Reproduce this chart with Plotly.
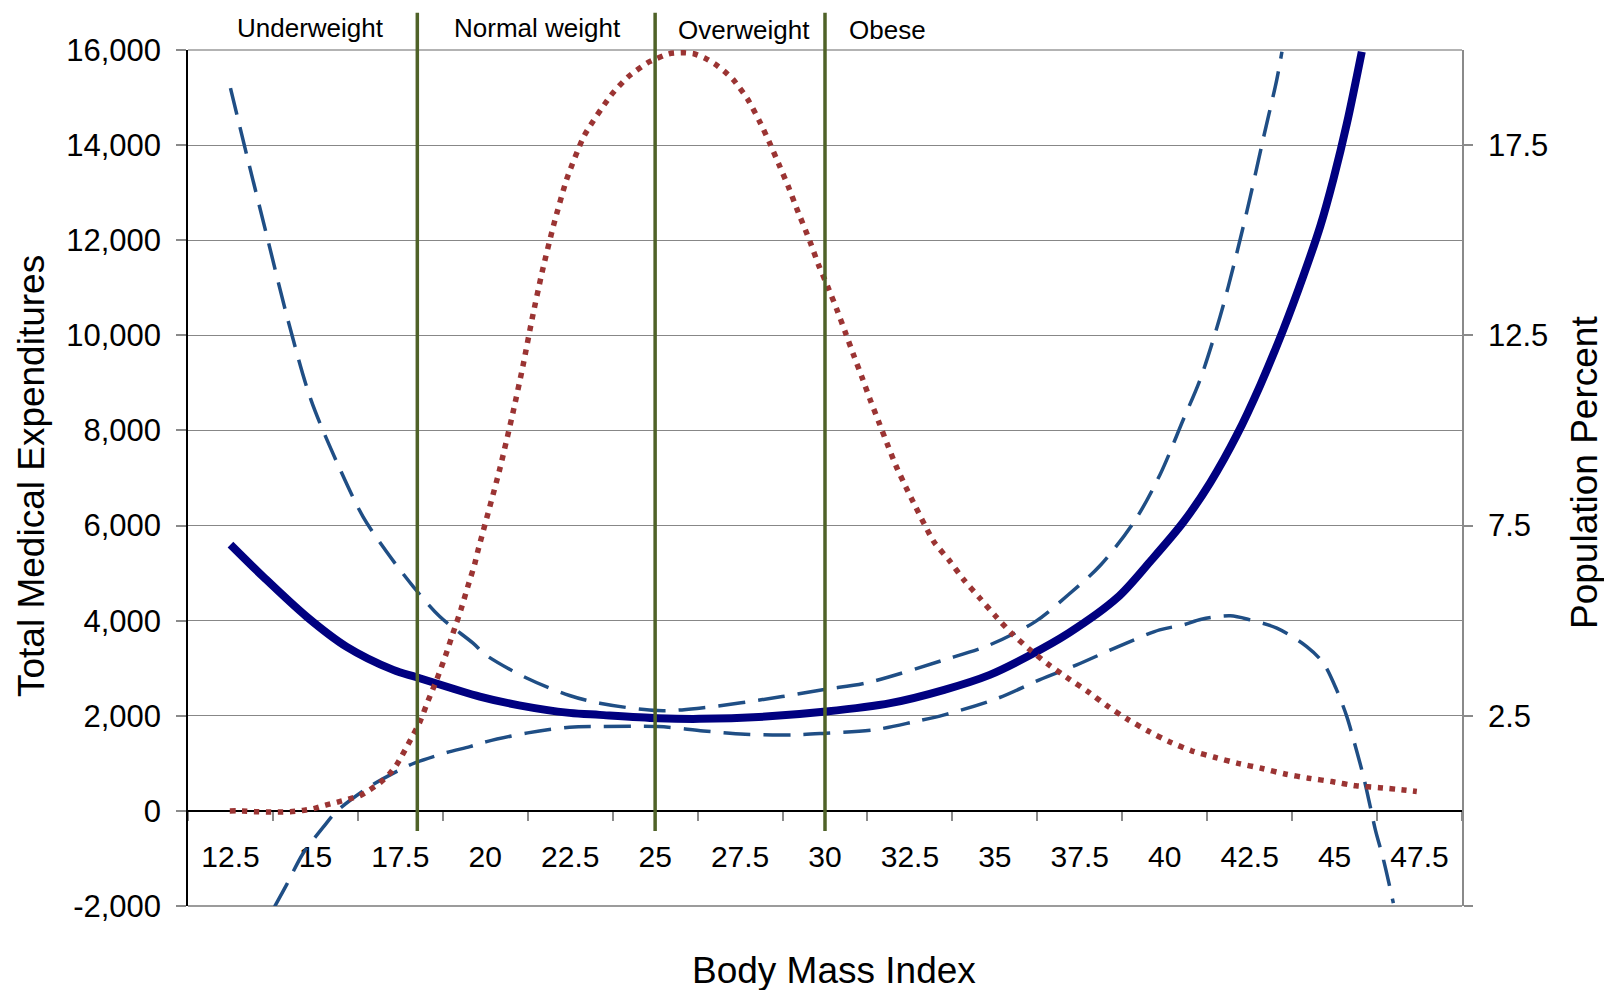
import plotly.graph_objects as go

# ---------------- data ----------------
bmi_ticks = [12.5, 15, 17.5, 20, 22.5, 25, 27.5, 30, 32.5, 35, 37.5, 40, 42.5, 45, 47.5]
bmi_tick_text = ["12.5", "15", "17.5", "20", "22.5", "25", "27.5", "30", "32.5",
                 "35", "37.5", "40", "42.5", "45", "47.5"]
bmi_boundary_ticks = [11.25, 13.75, 16.25, 18.75, 21.25, 23.75, 26.25, 28.75, 31.25,
                      33.75, 36.25, 38.75, 41.25, 43.75, 46.25, 48.75]

exp_ticks = [-2000, 0, 2000, 4000, 6000, 8000, 10000, 12000, 14000, 16000]
exp_tick_text = ["-2,000", "0", "2,000", "4,000", "6,000", "8,000", "10,000",
                 "12,000", "14,000", "16,000"]

pct_ticks = [-2.5, 2.5, 7.5, 12.5, 17.5]
pct_tick_text = ["", "2.5", "7.5", "12.5", "17.5"]

category_bounds = [18, 25, 30]
category_names = ["Underweight", "Normal weight", "Overweight", "Obese"]

# Estimated total medical expenditures (solid)
est_bmi = [12.5, 13.46, 14.74, 15.91, 17.29, 17.98, 19.84, 21.0, 22.48, 23.37, 25.08,
           26.3, 28.25, 30.03, 31.92, 33.51, 34.85, 35.96, 37.17, 38.6, 39.57, 40.55,
           41.34, 42.12, 42.81, 43.49, 44.08, 44.58, 44.97, 45.36, 45.8]
est_exp = [5600, 4927, 4086, 3455, 2965, 2811, 2404, 2220, 2061, 2019, 1949,
           1935, 1983, 2088, 2265, 2545, 2860, 3245, 3737, 4480, 5243, 6074,
           6904, 7900, 8950, 10120, 11250, 12300, 13300, 14450, 15964]

# Upper confidence bound (dashed)
upper_bmi = [12.5, 12.99, 13.6, 14.19, 14.87, 15.71, 16.4, 17.09, 17.88, 18.66, 19.64,
             20.0, 21.2, 22.48, 23.37, 25.08, 26.3, 28.74, 30.03, 31.19, 33.51, 34.85,
             36.19, 37.17, 38.1, 39.13, 39.86, 40.55, 41.04, 41.63, 42.12, 42.51,
             42.9, 43.3, 43.45]
upper_exp = [15198, 13760, 12008, 10326, 8643, 7207, 6189, 5453, 4717, 4086, 3527,
             3287, 2800, 2427, 2265, 2109, 2160, 2404, 2559, 2686, 3176, 3491,
             3980, 4550, 5159, 6116, 7070, 8235, 9066, 10395, 11726, 12890,
             14136, 15384, 15964]

# Lower confidence bound (dashed)
lower_bmi = [13.8, 14.15, 14.64, 15.23, 15.62, 16.6, 17.58, 17.95, 18.86, 19.55, 20.04,
             21.25, 22.48, 23.37, 25.08, 26.42, 27.65, 29.0, 30.03, 31.43, 32.65, 33.51,
             35.09, 36.31, 37.41, 38.63, 39.85, 40.55, 41.08, 41.93, 42.51, 43.3,
             44.18, 44.67, 45.06, 45.36, 45.56, 45.85, 46.05, 46.2, 46.44, 46.73]
lower_exp = [-2012, -1556, -890, -343, -14, 511, 897, 1016, 1226, 1352, 1457,
             1640, 1760, 1773, 1773, 1682, 1612, 1598, 1634, 1703, 1878, 2019,
             2370, 2755, 3070, 3455, 3806, 3912, 4031, 4101, 4017, 3842,
             3455, 3106, 2545, 1983, 1493, 721, 90, -400, -1030, -1941]

# Population percent (dotted, right axis)
pop_bmi = [12.48, 12.85, 13.21, 13.56, 13.9, 14.26, 14.62, 14.95, 15.3, 15.65, 15.98,
           16.31, 16.6, 16.9, 17.16, 17.39, 17.56, 17.73, 18.07, 18.32, 18.58, 18.83,
           19.05, 19.28, 19.48, 19.69, 19.77, 20.42, 20.81, 21.11, 21.38, 21.67,
           22.01, 22.4, 22.92, 23.71, 24.2, 24.77, 25.41, 25.78, 26.14, 26.46, 26.76,
           27.05, 27.3, 27.72, 28.06, 28.36, 28.64, 28.92, 29.17, 29.56, 29.81, 30.08,
           30.34, 30.59, 30.83, 31.08, 31.32, 31.58, 31.83, 32.09, 32.38, 32.53, 33.2,
           33.66, 34.09, 34.54, 35.01, 35.49, 36.01, 36.56, 37.13, 37.73, 38.29, 38.9,
           39.51, 40.13, 40.79, 41.47, 42.15, 42.84, 43.54, 44.23, 44.92, 45.63,
           46.32, 47.03, 47.42]
pop_pct = [0.0, 0.0, -0.02, -0.03, -0.03, -0.02, 0.01, 0.06, 0.15, 0.23, 0.31,
           0.40, 0.55, 0.74, 0.95, 1.21, 1.47, 1.75, 2.33, 2.90, 3.47, 4.08,
           4.67, 5.28, 5.88, 6.49, 6.79, 8.96, 10.45, 11.7, 12.94, 14.15,
           15.39, 16.61, 17.76, 18.82, 19.29, 19.66, 19.9, 19.93, 19.9, 19.79, 19.63,
           19.43, 19.22, 18.71, 18.15, 17.58, 17.0, 16.41, 15.83, 14.96, 14.35, 13.78,
           13.2, 12.6, 12.01, 11.42, 10.83, 10.23, 9.65, 9.07, 8.51, 8.24, 7.08,
           6.58, 6.07, 5.61, 5.13, 4.67, 4.25, 3.86, 3.5, 3.14, 2.77, 2.41,
           2.1, 1.82, 1.58, 1.41, 1.25, 1.12, 0.97, 0.86, 0.77, 0.66,
           0.61, 0.55, 0.51]

# ---------------- styling ----------------
FONT = "Liberation Sans, Arial, Helvetica, sans-serif"
W, H = 1604, 990
ML, MR, MT, MB = 188, 142, 50, 84
PW, PH = W - ML - MR, H - MT - MB

def px_x(px):
    return (px - ML) / PW

def px_y(py):
    return (H - MB - py) / PH

CI_COLOR = "#1F4E85"
EST_COLOR = "#000080"
POP_COLOR = "#9B3433"
GREEN = "#4F6228"
GRID = "#878787"

fig = go.Figure()

fig.add_trace(go.Scatter(
    x=upper_bmi, y=upper_exp, mode="lines", showlegend=False, hoverinfo="skip",
    line=dict(color=CI_COLOR, width=3.5, dash="27px,13px", shape="spline", smoothing=0.9)))
fig.add_trace(go.Scatter(
    x=lower_bmi, y=lower_exp, mode="lines", showlegend=False, hoverinfo="skip",
    line=dict(color=CI_COLOR, width=3.5, dash="27px,13px", shape="spline", smoothing=0.9)))
fig.add_trace(go.Scatter(
    x=est_bmi, y=est_exp, mode="lines", showlegend=False, hoverinfo="skip",
    line=dict(color=EST_COLOR, width=8, shape="spline", smoothing=0.9)))
fig.add_trace(go.Scatter(
    x=pop_bmi, y=pop_pct, mode="lines", yaxis="y2", showlegend=False, hoverinfo="skip",
    line=dict(color=POP_COLOR, width=5.5, dash="5.5px,6.5px", shape="spline", smoothing=0.6)))

shapes = []
# category boundary lines
for b in category_bounds:
    shapes.append(dict(type="line", xref="x", yref="paper", x0=b, x1=b,
                       y0=px_y(831), y1=px_y(12.7),
                       line=dict(color=GREEN, width=3.5), layer="above"))
# plot frame (bottom and top)
shapes.append(dict(type="line", xref="paper", yref="paper", x0=0, x1=1, y0=0, y1=0,
                   line=dict(color="#7a7a7a", width=1.5), layer="below"))
shapes.append(dict(type="line", xref="paper", yref="paper", x0=0, x1=1, y0=1, y1=1,
                   line=dict(color="#9a9a9a", width=1.5), layer="below"))

annotations = []
cat_px = [(310, 27.8), (537.8, 27.8), (743.8, 30.5), (887, 30.5)]
for name, (cx, cy) in zip(category_names, cat_px):
    annotations.append(dict(text=name, xref="paper", yref="paper", x=px_x(cx), y=px_y(cy),
                            xanchor="center", yanchor="middle", showarrow=False,
                            font=dict(family=FONT, size=26, color="black")))
annotations.append(dict(text="Body Mass Index", xref="paper", yref="paper",
                        x=px_x(834), y=px_y(970), xanchor="center", yanchor="middle",
                        showarrow=False, font=dict(family=FONT, size=37, color="black")))
annotations.append(dict(text="Total Medical Expenditures", xref="paper", yref="paper",
                        x=px_x(31), y=px_y(476), xanchor="center", yanchor="middle",
                        textangle=-90, showarrow=False,
                        font=dict(family=FONT, size=37, color="black")))
annotations.append(dict(text="Population Percent", xref="paper", yref="paper",
                        x=px_x(1584), y=px_y(473), xanchor="center", yanchor="middle",
                        textangle=-90, showarrow=False,
                        font=dict(family=FONT, size=37, color="black")))

fig.update_layout(
    width=W, height=H,
    margin=dict(l=ML, r=MR, t=MT, b=MB, pad=0),
    paper_bgcolor="white", plot_bgcolor="white",
    font=dict(family=FONT, size=30, color="black"),
    showlegend=False,
    shapes=shapes,
    annotations=annotations,
    xaxis=dict(
        range=[11.25, 48.75], anchor="free", position=px_y(811),
        showline=True, linecolor="black", linewidth=1.5,
        showgrid=False, zeroline=False,
        tickmode="array", tickvals=bmi_ticks, ticktext=bmi_tick_text,
        ticks="outside", ticklen=19, tickcolor="rgba(0,0,0,0)",
        tickfont=dict(family=FONT, size=30, color="black"),
        minor=dict(tickmode="array", tickvals=bmi_boundary_ticks, ticks="outside",
                   ticklen=9, tickcolor="#8a8a8a", tickwidth=1.5, showgrid=False),
        layer="below traces",
    ),
    yaxis=dict(
        range=[-2000, 16000], tickmode="array", tickvals=exp_ticks, ticktext=exp_tick_text,
        showline=True, linecolor="black", linewidth=1.5,
        showgrid=True, gridcolor=GRID, gridwidth=1, zeroline=False,
        ticks="outside", ticklen=10, tickcolor="#8a8a8a", tickwidth=1.5,
        ticklabelstandoff=9,
        tickfont=dict(family=FONT, size=31, color="black"),
    ),
    yaxis2=dict(
        range=[-2.5, 20], overlaying="y", side="right", anchor="x",
        tickmode="array", tickvals=pct_ticks, ticktext=pct_tick_text,
        showline=True, linecolor="#8a8a8a", linewidth=1.5,
        showgrid=False, zeroline=False,
        ticks="outside", ticklen=9, tickcolor="#8a8a8a", tickwidth=1.5,
        ticklabelstandoff=9,
        tickfont=dict(family=FONT, size=31, color="black"),
    ),
)

fig.write_html("out.html", include_plotlyjs=True, full_html=True,
               config={"displayModeBar": False},
               post_script="document.body.style.margin='0px';document.body.style.overflow='hidden';")
